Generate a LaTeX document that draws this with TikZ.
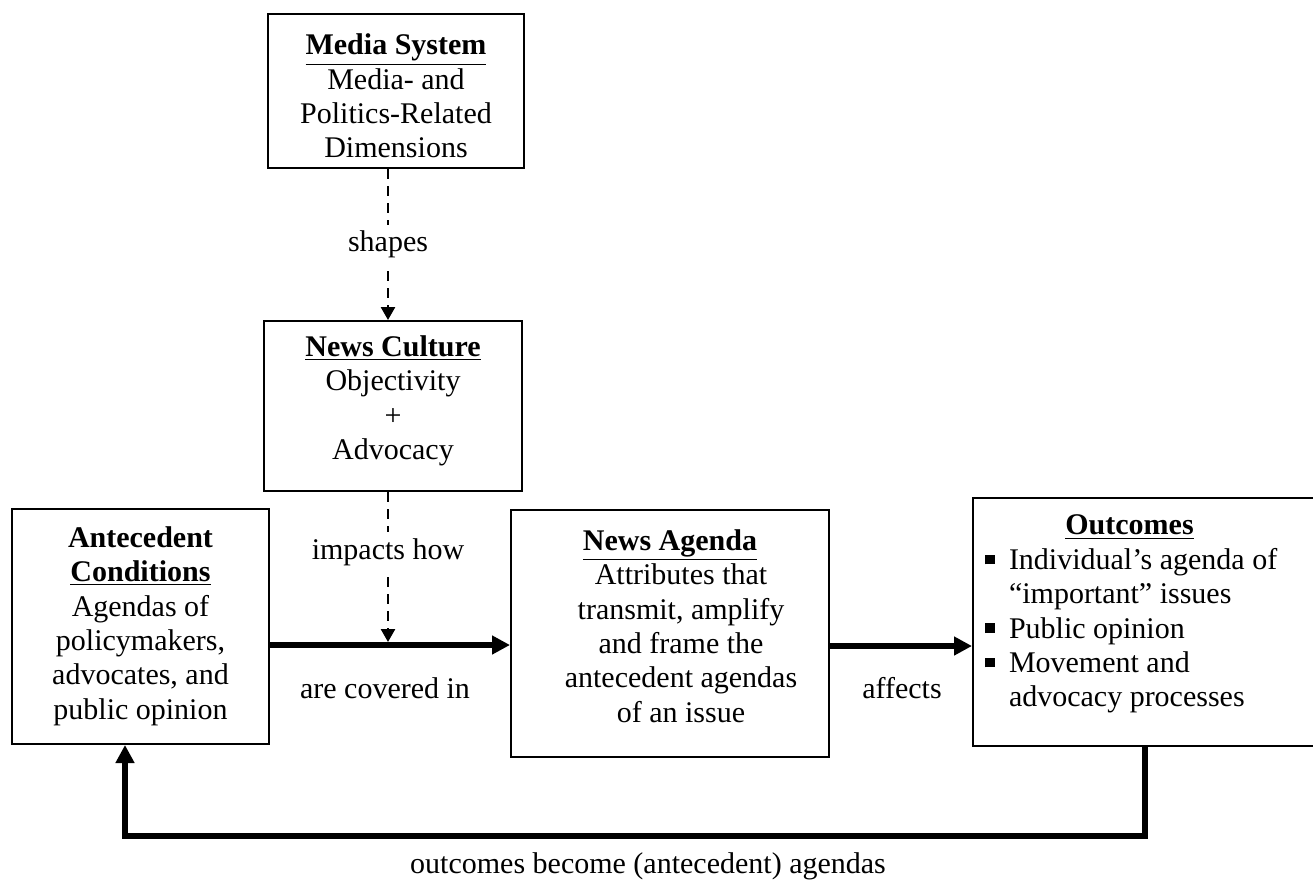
\documentclass[tikz,border=0pt]{standalone}
\usepackage{fontspec}
\setmainfont{Liberation Serif}
\usetikzlibrary{arrows.meta}
\newcommand{\sqbul}{\rule[2.5pt]{4.8pt}{4.8pt}}
\begin{document}
\begin{tikzpicture}[x=0.5pt,y=-0.5pt,
  box/.style={draw, line width=1pt, inner sep=0pt, fill=white},
  txt/.style={align=center, inner sep=0pt, font=\fontsize{15}{17.2}\selectfont},
  lbl/.style={inner sep=3pt, font=\fontsize{15}{17.2}\selectfont, fill=white},
  thickarrow/.style={line width=2.6pt, -{Triangle[length=9pt,width=9pt]}},
  dasharrow/.style={line width=1.3pt, dash pattern=on 5pt off 3.5pt, -{Triangle[length=6.5pt,width=7pt]}}]
\useasboundingbox (0,0) rectangle (1313,885);
% boxes
\node[box, minimum width=128pt, minimum height=77pt] (media) at (396,91) {};
\node[box, minimum width=129pt, minimum height=85pt] (culture) at (393,406) {};
\node[box, minimum width=128.5pt, minimum height=117.5pt] (ante) at (140.5,626.5) {};
\node[box, minimum width=159pt, minimum height=123.5pt] (agenda) at (670,633.5) {};
\node[box, minimum width=185pt, minimum height=124pt] (outcomes) at (1158,622) {};
% texts
\node[txt] (mediaT) at (396,96) {\textbf{\underline{Media System}}\\Media- and\\Politics-Related\\Dimensions};
\node[txt] (cultureT) at (393,401) {\textbf{\underline{News Culture}}\\Objectivity\\+\\Advocacy};
\node[txt] (anteT) at (140.5,626) {\textbf{Antecedent}\\\textbf{\underline{Conditions}}\\Agendas of\\policymakers,\\advocates, and\\public opinion};
\node[txt] (agendaT) at (681,626) {\textbf{\underline{News Agenda}}\hspace*{11pt}\\Attributes that\\transmit, amplify\\and frame the\\antecedent agendas\\of an issue};
\node[txt, anchor=west] (outT) at (985,614) {\begin{tabular}{@{}l@{\hspace{7pt}}l@{}}
\multicolumn{2}{@{}l@{}}{\hspace{40pt}\textbf{\underline{Outcomes}}}\\
\sqbul & Individual’s agenda of\\
 & “important” issues\\
\sqbul & Public opinion\\
\sqbul & Movement and\\
 & advocacy processes
\end{tabular}};
% connectors
\coordinate (dx) at (388,0);
\coordinate (hit) at (388,642);
\draw[dasharrow] (dx |- media.south) -- (dx |- culture.north) node[lbl, pos=0.5] (shapesL) {shapes};
\draw[dasharrow] (dx |- culture.south) -- (hit) node[lbl, pos=0.4] (impactsL) {impacts how};
\draw[thickarrow] (ante.east |- 0,645) -- (agenda.west |- 0,645);
\draw[thickarrow] (agenda.east |- 0,646) -- (outcomes.west |- 0,646);
\node[lbl, fill=none] (coveredL) at (385,688) {are covered in};
\node[lbl, fill=none] (affectsL) at (902,688) {affects};
\coordinate (fbR) at (1145,836);
\coordinate (fbL) at (125,836);
\draw[thickarrow] (fbR |- outcomes.south) -- (fbR) -- (fbL) -- (fbL |- ante.south);
\node[lbl, fill=none] (fbLabel) at (648,866) {outcomes become (antecedent) agendas};
\end{tikzpicture}
\end{document}
